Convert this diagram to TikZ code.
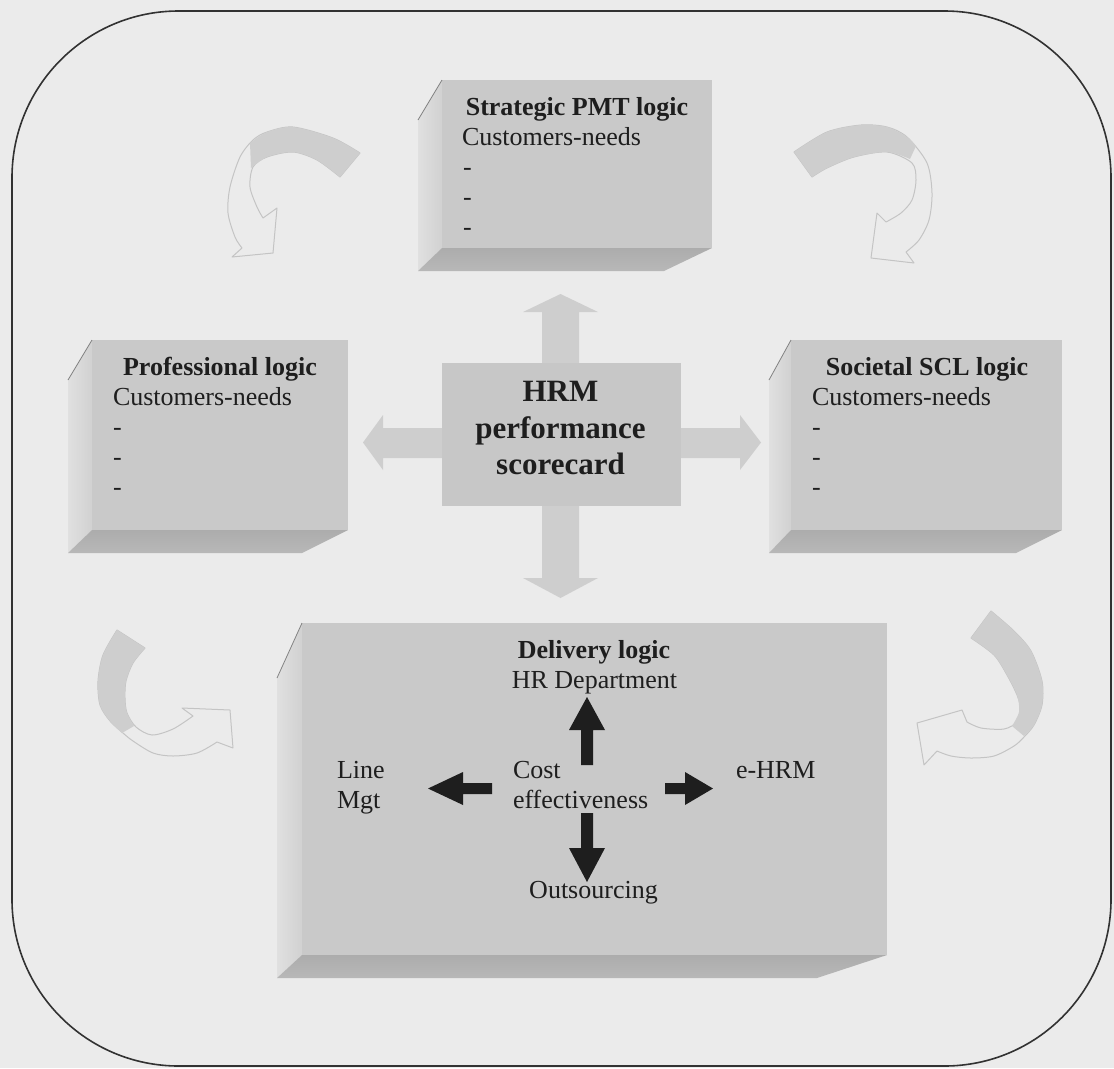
\documentclass[tikz,border=0pt]{standalone}
\usepackage{fontspec}
\setmainfont{Liberation Serif}
\definecolor{pagebg}{RGB}{235,235,235}
\definecolor{faceC}{RGB}{201,201,201}
\definecolor{hubC}{RGB}{199,199,199}
\definecolor{sideL}{RGB}{224,224,224}
\definecolor{sideR}{RGB}{209,209,209}
\definecolor{floorT}{RGB}{172,172,172}
\definecolor{floorB}{RGB}{184,184,184}
\definecolor{edgeC}{RGB}{130,130,130}
\definecolor{crossC}{RGB}{206,206,206}
\definecolor{bandC}{RGB}{206,206,206}
\definecolor{rimC}{RGB}{196,196,196}
\definecolor{inkC}{RGB}{30,30,30}
\definecolor{frameC}{RGB}{50,50,50}
% 3D slab: #1 side x, #2 front left, #3 front right, #4 top, #5 front bottom,
% #6 floor bottom, #7 foot of the bevel edge, #8 floor cut x
\newcommand\slab[8]{%
  \shade[left color=sideL, right color=sideR] (#1,#7) -- (#2,#4) -- (#2,#5) -- (#1,#6) -- cycle;
  \shade[top color=floorT, bottom color=floorB] (#2,#5) -- (#3,#5) -- (#8,#6) -- (#1,#6) -- cycle;
  \fill[faceC] (#2,#4) rectangle (#3,#5);
  \draw[edgeC, line width=0.6pt] (#1,#7) -- (#2,#4);
}
\begin{document}
\begin{tikzpicture}[x=0.75pt, y=-0.75pt,
  lbl/.style={inner sep=0pt, outer sep=0pt, text=inkC, font=\fontsize{19.5}{22.5}\selectfont},
  ttl/.style={lbl, font=\fontsize{19.5}{22.5}\selectfont\bfseries},
  hubtxt/.style={lbl, font=\fontsize{23.25}{27.4}\selectfont\bfseries, align=center},
  curl/.style={fill=pagebg, draw=rimC, line width=0.75pt, line join=round},
  blockarrow/.style={fill=crossC},
  inkarrow/.style={fill=inkC}
]
\fill[pagebg] (0,0) rectangle (1114,1068);
\useasboundingbox (0,0) rectangle (1114,1068);

% outer frame
\draw[frameC, line width=1.2pt, rounded corners=125pt] (12,11) rectangle (1111,1066);

% curled arrows around the frame
% top left
\draw[curl] plot[smooth] coordinates {(360,153) (333,138) (293,127) (267,132) (253,140) (240,157) (230,187) (228,213) (235,237) (242,248)}
  -- (232,257) -- (273,253) -- (277,208)
  -- plot[smooth] coordinates {(263,218) (257,207) (250,187) (253,167) (267,157) (293,152) (317,160) (340,177)} -- cycle;
\fill[bandC] plot[smooth] coordinates {(360,153) (333,138) (293,127) (267,132) (250,143)}
  -- plot[smooth] coordinates {(251,168) (267,157) (293,152) (317,160) (340,177)} -- cycle;
% top right
\draw[curl] plot[smooth] coordinates {(794,152) (827,132) (861,125) (887,127) (907,137) (927,163) (932,193) (929,220) (919,240) (906,252)}
  -- (914,263) -- (871,258) -- (877,213)
  -- plot[smooth] coordinates {(886,222) (901,213) (912,200) (916,180) (912,163) (887,152) (854,157) (827,168) (812,177)} -- cycle;
\fill[bandC] plot[smooth] coordinates {(794,152) (827,132) (861,125) (887,127) (907,137) (916,146)}
  -- plot[smooth] coordinates {(910,159) (887,152) (854,157) (827,168) (812,177)} -- cycle;
% bottom left
\draw[curl] plot[smooth] coordinates {(117,630) (103,655) (98,681) (100,705) (110,721) (123,733) (133,741) (153,753) (173,756) (197,753) (217,742)}
  -- (233,748) -- (230,710) -- (182,708)
  -- plot[smooth] coordinates {(193,716) (173,729) (152,735) (136,727) (127,713) (125,698) (126,681) (133,663) (145,648)} -- cycle;
\fill[bandC] plot[smooth] coordinates {(117,630) (103,655) (98,681) (100,705) (110,721) (122,733)}
  -- plot[smooth] coordinates {(134,726) (127,713) (125,698) (126,681) (133,663) (145,648)} -- cycle;
% bottom right
\draw[curl] plot[smooth] coordinates {(991,611) (1014,631) (1031,651) (1042,681) (1042,705) (1034,725) (1024,737) (1014,746) (994,756) (971,758) (951,756) (937,751)}
  -- (924,765) -- (917,723) -- (962,710)
  -- plot[smooth] coordinates {(967,722) (981,728) (1004,729) (1017,722) (1021,710) (1017,695) (1007,675) (994,655) (971,638)} -- cycle;
\fill[bandC] plot[smooth] coordinates {(991,611) (1014,631) (1031,651) (1042,681) (1042,705) (1034,725) (1024,736)}
  -- plot[smooth] coordinates {(1012,726) (1019,712) (1017,695) (1007,675) (994,655) (971,638)} -- cycle;

% the four logic slabs
\slab{418}{442}{712}{80}{248}{271}{120}{664}
\slab{68}{92}{348}{340}{530}{553}{380}{302}
\slab{769}{791}{1062}{340}{530}{553}{380}{1016}
\slab{277}{302}{887}{623}{955}{978}{678}{817}

% cross of block arrows behind the scorecard
\fill[blockarrow] (542,363) -- (542,312) -- (523,312) -- (560.5,294) -- (598,312) -- (579,312) -- (579,363) -- cycle;
\fill[blockarrow] (542,506) -- (542,578) -- (523,578) -- (560.5,598) -- (598,578) -- (579,578) -- (579,506) -- cycle;
\fill[blockarrow] (442,428) -- (383,428) -- (383,415) -- (363,442.5) -- (383,470) -- (383,458) -- (442,458) -- cycle;
\fill[blockarrow] (681,428) -- (740,428) -- (740,415) -- (761,442.5) -- (740,470) -- (740,458) -- (681,458) -- cycle;

% scorecard
\node[fill=hubC, inner sep=0pt, minimum width=179.25pt, minimum height=107.25pt] (hrm) at (561.5,434.5) {};
\node[hubtxt, anchor=north] (hrmT) at (560.5,381.5) {HRM\\performance\\scorecard};

% strategic
\node[ttl, anchor=base] (stratT) at (577,115) {Strategic PMT logic};
\node[lbl, anchor=base west] (stratC) at (462,145) {Customers-needs};
\foreach \i in {1,2,3} \node[lbl, anchor=base west] (stratD\i) at (463,145+30*\i) {-};

% professional
\node[ttl, anchor=base] (profT) at (220,375) {Professional logic};
\node[lbl, anchor=base west] (profC) at (113,405) {Customers-needs};
\foreach \i in {1,2,3} \node[lbl, anchor=base west] (profD\i) at (113,405+30*\i) {-};

% societal
\node[ttl, anchor=base] (socT) at (927,375) {Societal SCL logic};
\node[lbl, anchor=base west] (socC) at (812,405) {Customers-needs};
\foreach \i in {1,2,3} \node[lbl, anchor=base west] (socD\i) at (812,405+30*\i) {-};

% delivery
\node[ttl, anchor=base] (delT) at (594,658) {Delivery logic};
\node[lbl, anchor=base] (delHR) at (594.5,688) {HR Department};
\node[lbl, anchor=base west] (cost1) at (513,778) {Cost};
\node[lbl, anchor=base west] (cost2) at (513,808) {effectiveness};
\node[lbl, anchor=base west] (line1) at (337,778) {Line};
\node[lbl, anchor=base west] (line2) at (337,808) {Mgt};
\node[lbl, anchor=base west] (ehrm) at (736,778) {e-HRM};
\node[lbl, anchor=base] (outs) at (593.5,898) {Outsourcing};

% dark arrows from cost effectiveness
\fill[inkarrow] (581,765) -- (581,730) -- (569,730) -- (587,697) -- (605,730) -- (593,730) -- (593,765) -- cycle;
\fill[inkarrow] (581,813) -- (581,848) -- (569,848) -- (587,882) -- (605,848) -- (593,848) -- (593,813) -- cycle;
\fill[inkarrow] (492,783) -- (463,783) -- (463,772) -- (428,788.5) -- (463,805) -- (463,794) -- (492,794) -- cycle;
\fill[inkarrow] (665,783) -- (685,783) -- (685,772) -- (713,788.5) -- (685,805) -- (685,794) -- (665,794) -- cycle;
\end{tikzpicture}
\end{document}
